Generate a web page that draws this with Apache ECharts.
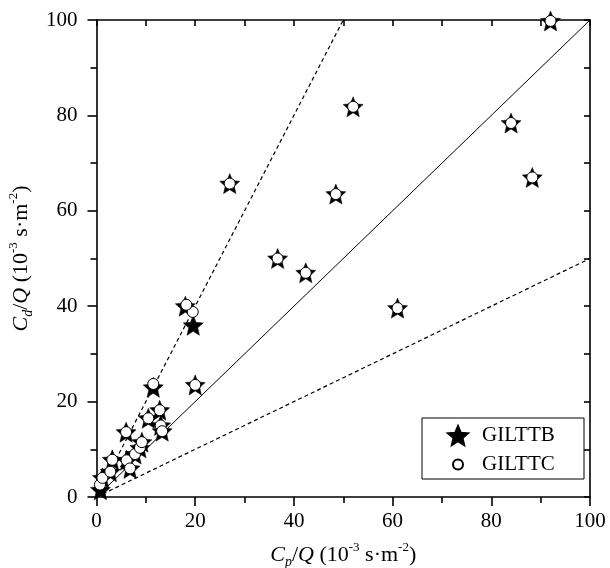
<!DOCTYPE html>
<html>
<head>
<meta charset="utf-8">
<script src="https://cdn.jsdelivr.net/npm/echarts@6/dist/echarts.min.js"></script>
<style>
html,body{margin:0;padding:0;background:#fff;}
#chart{width:610px;height:568px;}
</style>
</head>
<body>
<div id="chart"></div>
<script>
// ---- data ----
var seriesNames = ['GILTTB', 'GILTTC'];
var xTicks = [0, 20, 40, 60, 80, 100];
var yTicks = [0, 20, 40, 60, 80, 100];
var gilttb = [
  [0.8, 1.5], [1.2, 4.0], [2.8, 5.3], [3.2, 7.8], [6.1, 7.7], [6.8, 6.0],
  [7.8, 9.0], [8.8, 10.3], [9.2, 11.5], [6.0, 13.6], [10.5, 16.5], [12.8, 18.2],
  [13.0, 15.0], [13.3, 13.8], [11.5, 23.0], [20.0, 23.5], [19.6, 36.0], [18.0, 40.0],
  [27.0, 65.7], [36.7, 50.0], [42.4, 47.0], [48.5, 63.5], [52.0, 81.8], [61.0, 39.6],
  [84.0, 78.4], [88.3, 67.0], [92.0, 99.8]
];
var gilttc = [
  [0.7, 2.6], [1.2, 4.0], [2.8, 5.3], [3.2, 7.8], [6.1, 7.7], [6.8, 6.0],
  [7.8, 9.0], [8.8, 10.3], [9.2, 11.5], [6.0, 13.6], [10.5, 16.5], [12.8, 18.2],
  [13.0, 15.0], [13.3, 13.8], [11.5, 23.7], [20.0, 23.5], [19.5, 38.8], [18.2, 40.3],
  [27.0, 65.7], [36.7, 50.0], [42.4, 47.0], [48.5, 63.5], [52.0, 81.8], [61.0, 39.6],
  [84.0, 78.4], [88.3, 67.0], [92.0, 99.8]
];
var line11 = [[0, 0], [100, 100]];
var line21 = [[0, 0], [50, 100]];
var line12 = [[0, 0], [100, 50]];

var STAR = 'path://M0,-10 L2.645,-3.64 L9.51,-3.09 L4.28,1.39 L5.88,8.09 L0,4.5 L-5.88,8.09 L-4.28,1.39 L-9.51,-3.09 L-2.645,-3.64 Z';
var FONT = 'Liberation Serif';

var richT = {
  i: {fontFamily: FONT, fontStyle: 'italic', fontSize: 22, lineHeight: 28, color: '#000'},
  n: {fontFamily: FONT, fontSize: 22, lineHeight: 28, color: '#000'},
  sub: {fontFamily: FONT, fontStyle: 'italic', fontSize: 14, verticalAlign: 'bottom', color: '#000'},
  sup: {fontFamily: FONT, fontSize: 13, verticalAlign: 'top', color: '#000'}
};

var chart = echarts.init(document.getElementById('chart'), null, {renderer: 'canvas'});

function mainAxis(extra) {
  var a = {
    type: 'value', min: 0, max: 100, interval: 20,
    axisLine: {show: true, onZero: false, lineStyle: {color: '#000', width: 1.6}},
    axisTick: {show: true, inside: false, length: 9, lineStyle: {color: '#000', width: 1.6}},
    minorTick: {show: true, splitNumber: 2, length: 6, lineStyle: {color: '#000', width: 1.6}},
    splitLine: {show: false},
    nameLocation: 'middle',
    nameTextStyle: {rich: richT}
  };
  for (var k in extra) a[k] = extra[k];
  return a;
}
function sideAxis(pos) {
  return {
    type: 'value', min: 0, max: 100, interval: 10, position: pos,
    axisLine: {show: true, onZero: false, lineStyle: {color: '#000', width: 1.6}},
    axisTick: {show: true, inside: true, length: 6, lineStyle: {color: '#000', width: 1.6}},
    splitLine: {show: false},
    axisLabel: {show: false}
  };
}

var option = {
  backgroundColor: '#fff',
  animation: false,
  grid: {left: 96.5, right: 20, top: 20, bottom: 71, containLabel: false, outerBoundsMode: 'none'},
  xAxis: [
    mainAxis({position: 'bottom', name: '{i|C}{sub|p}{n|/}{i|Q}{n| (10}{sup|-3}{n| s·m}{sup|-2}{n|)}', nameGap: 44,
      axisLabel: {color: '#000', fontFamily: FONT, fontSize: 21, margin: 14,
        formatter: function (v) { return xTicks.indexOf(v) >= 0 ? String(v) : ''; }}}),
    sideAxis('top')
  ],
  yAxis: [
    mainAxis({position: 'left', name: '{i|C}{sub|d}{n|/}{i|Q}{n| (10}{sup|-3}{n| s·m}{sup|-2}{n|)}', nameGap: 60, nameRotate: 90,
      axisLabel: {color: '#000', fontFamily: FONT, fontSize: 21, margin: 19,
        formatter: function (v) { return yTicks.indexOf(v) >= 0 ? String(v) : ''; }}}),
    sideAxis('right')
  ],
  legend: [
    {
      data: [{name: seriesNames[0], icon: STAR}],
      left: 442, top: 420, itemWidth: 20, itemHeight: 20, orient: 'vertical',
      textStyle: {fontFamily: FONT, fontSize: 21, color: '#000', padding: [0, 0, 0, 9]},
      selectedMode: false
    },
    {
      data: [{name: seriesNames[1], icon: 'circle'}],
      left: 447, top: 449, itemWidth: 20, itemHeight: 10, orient: 'vertical',
      textStyle: {fontFamily: FONT, fontSize: 21, color: '#000', padding: [0, 0, 0, 9]},
      selectedMode: false
    }
  ],
  graphic: [{
    type: 'rect', z: 0,
    shape: {x: 422, y: 418, width: 162, height: 61},
    style: {fill: '#fff', stroke: '#000', lineWidth: 1}
  }],
  series: [
    {type: 'line', data: line11, symbol: 'none', silent: true, z: 1,
      lineStyle: {color: '#000', width: 1}},
    {type: 'line', data: line21, symbol: 'none', silent: true, z: 1,
      lineStyle: {color: '#000', width: 1.2, type: [4, 3]}},
    {type: 'line', data: line12, symbol: 'none', silent: true, z: 1,
      lineStyle: {color: '#000', width: 1.2, type: [4, 3]}},
    {name: seriesNames[0], type: 'scatter', data: gilttb, symbol: STAR, symbolSize: 20, z: 3,
      itemStyle: {color: '#000', borderColor: '#000', borderWidth: 0.5, opacity: 1}},
    {name: seriesNames[1], type: 'scatter', data: gilttc, symbol: 'circle', symbolSize: 11, z: 4,
      itemStyle: {color: '#fff', borderColor: '#000', borderWidth: 1, opacity: 1}}
  ]
};
chart.setOption(option);
</script>
</body>
</html>
